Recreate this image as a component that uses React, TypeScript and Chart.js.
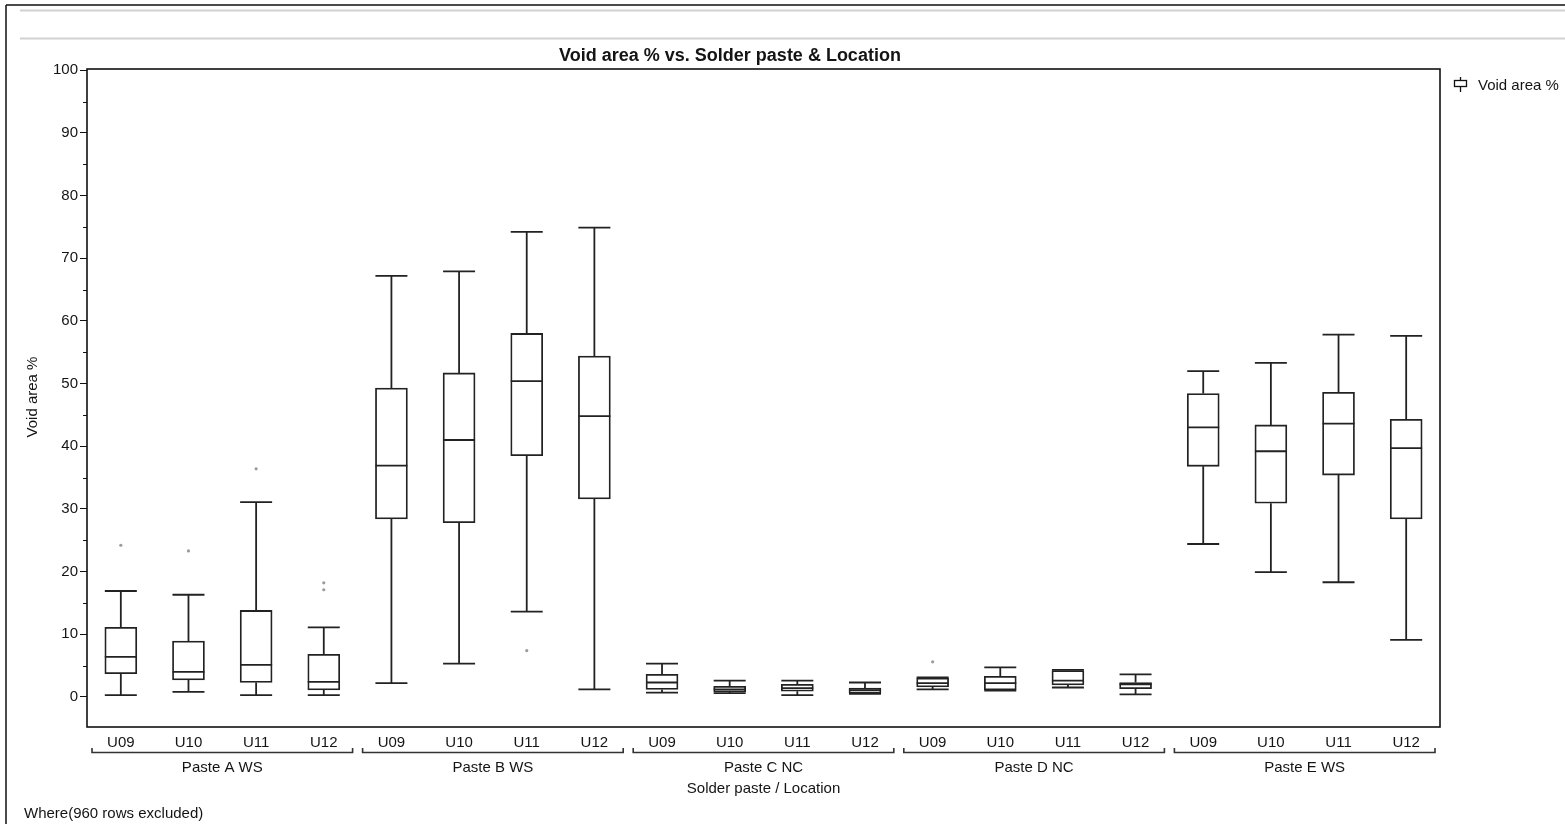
import React, { useEffect, useRef } from "react";
import { Chart, registerables } from "chart.js";

Chart.register(...registerables);

const pastes = ["Paste A WS", "Paste B WS", "Paste C NC", "Paste D NC", "Paste E WS"];
const locations = ["U09", "U10", "U11", "U12"];

// order: Paste A U09..U12, Paste B U09..U12, ... Paste E U09..U12
const whiskerLow = [0.3, 0.8, 0.3, 0.3, 2.2, 5.3, 13.6, 1.2, 0.7, 0.6, 0.3, 0.5, 1.2, 1.0, 1.5, 0.4, 24.4, 19.9, 18.3, 9.1];
const quartile1 = [3.7, 2.7, 2.3, 1.1, 28.4, 27.8, 38.5, 31.6, 1.2, 0.8, 0.9, 0.6, 1.6, 1.1, 1.9, 1.3, 36.8, 30.9, 35.4, 28.4];
const medians = [6.4, 4.0, 5.1, 2.4, 36.9, 41.0, 50.4, 44.8, 2.3, 1.2, 1.4, 1.1, 2.2, 2.2, 2.6, 2.0, 43.0, 39.2, 43.6, 39.7];
const quartile3 = [11.1, 8.9, 13.8, 6.8, 49.3, 51.7, 58.0, 54.4, 3.6, 1.7, 2.0, 1.4, 3.0, 3.3, 4.2, 2.3, 48.4, 43.4, 48.6, 44.3];
const whiskerHigh = [16.9, 16.3, 31.1, 11.1, 67.2, 67.9, 74.2, 74.9, 5.3, 2.6, 2.6, 2.3, 3.1, 4.7, 4.3, 3.6, 52.0, 53.3, 57.8, 57.6];

const outlierCategory = [0, 1, 2, 3, 3, 6, 12];
const outlierValues = [24.2, 23.3, 36.4, 18.2, 17.1, 7.4, 5.6];

const yTicks = [0, 10, 20, 30, 40, 50, 60, 70, 80, 90, 100];
const yMinorTicks = [5, 15, 25, 35, 45, 55, 65, 75, 85, 95];

const titleText = "Void area % vs. Solder paste & Location";
const yTitle = "Void area %";
const xTitle = "Solder paste / Location";
const legendText = "Void area %";
const footnote = "Where(960 rows excluded)";

const FONT = "'Liberation Sans', Arial, sans-serif";
const INK = "#141414";
const BOX = "#222222";

const categoryKeys = pastes.flatMap((p) => locations.map((l) => p + "|" + l));

const decorPlugin = {
  id: "decor",
  beforeDraw(chart: any) {
    const ctx = chart.ctx;
    ctx.save();
    ctx.fillStyle = "#ffffff";
    ctx.fillRect(0, 0, chart.width, chart.height);
    ctx.strokeStyle = "#111";
    ctx.lineWidth = 1.5;
    ctx.beginPath();
    ctx.moveTo(6, 5);
    ctx.lineTo(chart.width, 5);
    ctx.moveTo(6, 5);
    ctx.lineTo(6, chart.height);
    ctx.stroke();
    ctx.strokeStyle = "#d2d2d2";
    ctx.lineWidth = 2;
    ctx.beginPath();
    ctx.moveTo(20, 10.5);
    ctx.lineTo(chart.width, 10.5);
    ctx.moveTo(20, 38.5);
    ctx.lineTo(chart.width, 38.5);
    ctx.stroke();
    ctx.restore();
  },
  afterDatasetsDraw(chart: any) {
    const ctx = chart.ctx;
    const xs = chart.scales.x;
    const ys = chart.scales.y;
    const meta = chart.getDatasetMeta(0);
    ctx.save();
    ctx.strokeStyle = BOX;
    ctx.lineWidth = 1.8;
    for (let i = 0; i < categoryKeys.length; i++) {
      const x = xs.getPixelForValue(i);
      const el = meta.data[i];
      const hw = (el ? el.width : 32) / 2;
      const yLo = ys.getPixelForValue(whiskerLow[i]);
      const yQ1 = ys.getPixelForValue(quartile1[i]);
      const yMd = ys.getPixelForValue(medians[i]);
      const yQ3 = ys.getPixelForValue(quartile3[i]);
      const yHi = ys.getPixelForValue(whiskerHigh[i]);
      ctx.beginPath();
      ctx.moveTo(x, yQ3);
      ctx.lineTo(x, yHi);
      ctx.moveTo(x, yQ1);
      ctx.lineTo(x, yLo);
      ctx.moveTo(x - hw, yHi);
      ctx.lineTo(x + hw, yHi);
      ctx.moveTo(x - hw, yLo);
      ctx.lineTo(x + hw, yLo);
      ctx.moveTo(x - hw, yMd);
      ctx.lineTo(x + hw, yMd);
      ctx.stroke();
    }
    ctx.restore();
  },
  afterDraw(chart: any) {
    const ctx = chart.ctx;
    const area = chart.chartArea;
    const xs = chart.scales.x;
    const ys = chart.scales.y;
    ctx.save();
    ctx.strokeStyle = "#111";
    ctx.lineWidth = 1.6;
    ctx.strokeRect(area.left, area.top, area.right - area.left, area.bottom - area.top);
    ctx.lineWidth = 1;
    ctx.beginPath();
    yMinorTicks.forEach((v) => {
      const y = Math.round(ys.getPixelForValue(v)) + 0.5;
      ctx.moveTo(area.left - 4, y);
      ctx.lineTo(area.left, y);
    });
    ctx.stroke();

    ctx.fillStyle = INK;
    ctx.font = "bold 18px " + FONT;
    ctx.textAlign = "center";
    ctx.textBaseline = "middle";
    ctx.fillText(titleText, 730, 56);

    // legend
    ctx.strokeStyle = "#111";
    ctx.lineWidth = 1.3;
    ctx.beginPath();
    ctx.moveTo(1460.5, 77);
    ctx.lineTo(1460.5, 92);
    ctx.stroke();
    ctx.fillStyle = "#fff";
    ctx.fillRect(1454.5, 80.5, 12, 6);
    ctx.strokeRect(1454.5, 80.5, 12, 6);
    ctx.fillStyle = INK;
    ctx.font = "15px " + FONT;
    ctx.textAlign = "left";
    ctx.fillText(legendText, 1478, 85.5);

    // y title
    ctx.save();
    ctx.translate(33, (area.top + area.bottom) / 2 - 1);
    ctx.rotate(-Math.PI / 2);
    ctx.textAlign = "center";
    ctx.fillText(yTitle, 0, 0);
    ctx.restore();

    // group brackets and labels
    const step = (area.right - area.left) / categoryKeys.length;
    pastes.forEach((p, g) => {
      const gl = xs.getPixelForValue(g * 4) - step / 2 + 5;
      const gr = xs.getPixelForValue(g * 4 + 3) + step / 2 - 5;
      ctx.strokeStyle = "#333";
      ctx.lineWidth = 1.6;
      ctx.beginPath();
      ctx.moveTo(gl, 748);
      ctx.lineTo(gl, 752.5);
      ctx.lineTo(gr, 752.5);
      ctx.lineTo(gr, 748);
      ctx.stroke();
      ctx.textAlign = "center";
      ctx.fillText(p, (gl + gr) / 2, 768);
    });
    ctx.textAlign = "center";
    ctx.fillText(xTitle, (area.left + area.right) / 2, 789);
    ctx.textAlign = "left";
    ctx.fillText(footnote, 24, 814);
    ctx.restore();
  },
};

export default function App() {
  const canvasRef = useRef<HTMLCanvasElement | null>(null);

  useEffect(() => {
    if (!canvasRef.current) return;
    const boxData = quartile1.map((q, i) => [q, quartile3[i]]);
    const outlierData = outlierCategory.map((c, i) => ({ x: categoryKeys[c], y: outlierValues[i] }));
    const chart = new Chart(canvasRef.current, {
      type: "bar",
      data: {
        labels: categoryKeys,
        datasets: [
          {
            type: "bar",
            label: legendText,
            data: boxData as any,
            backgroundColor: "#ffffff",
            borderColor: BOX,
            borderWidth: 1.8,
            borderSkipped: false,
            barThickness: 32,
          } as any,
          {
            type: "scatter",
            label: "outliers",
            data: outlierData as any,
            backgroundColor: "#9a9a9a",
            borderWidth: 0,
            pointRadius: 1.6,
          } as any,
        ],
      },
      options: {
        responsive: false,
        animation: false,
        layout: { padding: { left: 0, top: 69, right: 125, bottom: 0 } },
        plugins: {
          legend: { display: false },
          title: { display: false },
          tooltip: { enabled: false },
        },
        scales: {
          x: {
            type: "category",
            offset: true,
            grid: { display: false, drawTicks: false },
            border: { display: false },
            ticks: {
              autoSkip: false,
              maxRotation: 0,
              padding: 7,
              color: INK,
              font: { family: FONT, size: 15 },
              callback: (_v: any, i: number) => locations[i % locations.length],
            },
            afterFit: (s: any) => {
              s.height = 97;
            },
          },
          y: {
            min: -4.8,
            max: 100.2,
            grid: { display: true, drawOnChartArea: false, drawTicks: true, tickLength: 7, color: "#111", lineWidth: 1 },
            border: { display: false },
            ticks: {
              stepSize: 10,
              padding: 2,
              color: INK,
              font: { family: FONT, size: 15 },
            },
            afterBuildTicks: (s: any) => {
              s.ticks = yTicks.map((v) => ({ value: v }));
            },
            afterFit: (s: any) => {
              s.width = 87;
            },
          },
        },
      },
      plugins: [decorPlugin],
    } as any);
    return () => chart.destroy();
  }, []);

  return (
    <div style={{ position: "fixed", left: 0, top: 0, width: 1565, height: 824, background: "#fff" }}>
      <canvas ref={canvasRef} width={1565} height={824} style={{ display: "block", width: 1565, height: 824 }} />
    </div>
  );
}
